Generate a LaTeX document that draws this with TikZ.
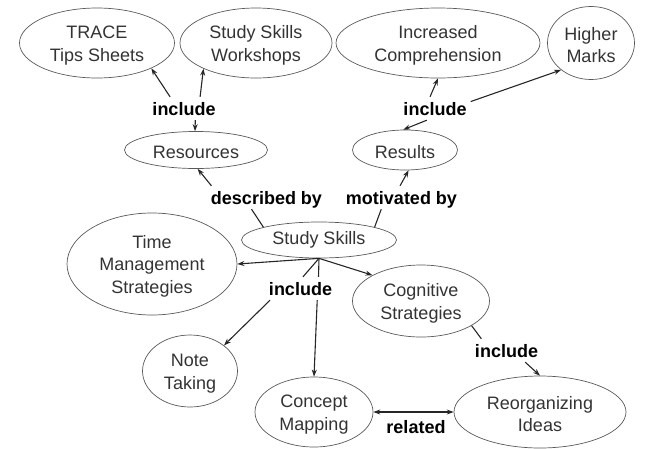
\documentclass[tikz,border=0pt]{standalone}
\usepackage{fontspec}
\setmainfont{Liberation Sans}
\usetikzlibrary{arrows.meta, positioning, shapes.geometric, calc}

\newcommand{\lift}{\rule{0pt}{17.5pt}}
\tikzset{
  concept/.style={ellipse, draw=black!65, line width=0.7pt, text=black!80, align=center, inner sep=0pt, font=\fontsize{18}{22.5}\selectfont},
  phrase/.style={inner xsep=4pt, inner ysep=5pt, text height=13pt, text depth=0pt, font=\fontsize{18}{22.5}\selectfont\bfseries},
  link/.style={line width=1.1pt, black!85},
  tip/.style={link, -{Stealth[length=7pt, width=5pt]}}
}

\begin{document}
\begin{tikzpicture}[x=1pt, y=-1pt]
  \useasboundingbox (0,0) rectangle (646,448);
  % Concepts
  \node[concept, minimum width=155pt, minimum height=70pt] (trace) at (97,43) {\lift TRACE\\Tips Sheets};
  \node[concept, minimum width=152pt, minimum height=70pt] (work) at (256,43) {\lift Study Skills\\Workshops};
  \node[concept, minimum width=204pt, minimum height=70pt] (incr) at (438,43) {\lift Increased\\Comprehension};
  \node[concept, minimum width=87pt, minimum height=73pt] (marks) at (591,43) {\lift Higher\\Marks};
  \node[concept, minimum width=143pt, minimum height=37pt] (res) at (196,150) {\lift Resources};
  \node[concept, minimum width=105pt, minimum height=40pt] (results) at (405,150) {\lift Results};
  \node[concept, minimum width=155pt, minimum height=36pt] (study) at (319,240) {Study Skills};
  \node[concept, minimum width=170pt, minimum height=102pt] (time) at (152,264) {\lift Time\\Management\\Strategies};
  \node[concept, minimum width=137pt, minimum height=72pt] (cog) at (421,301) {\lift Cognitive\\Strategies};
  \node[concept, minimum width=95pt, minimum height=72pt] (note) at (190,371) {\lift Note\\Taking};
  \node[concept, minimum width=118pt, minimum height=70pt] (concept) at (314,412) {\lift Concept\\Mapping};
  \node[concept, minimum width=172pt, minimum height=72pt] (reorg) at (540,412) {\lift Reorganizing\\Ideas};
  % Linking phrases
  \foreach \lbl/\px/\py/\ptext in {
    inclA/184/108.5/include,
    descr/266.5/197.5/described by,
    motiv/401.5/197.5/motivated by,
    inclB/435/108.5/include,
    inclC/300.5/288.5/include,
    inclD/506.5/350.5/include,
    rel/416/426.5/related
  } {
    \node[phrase] (\lbl) at (\px,\py) {\ptext};
  }
  % Resources side
  \draw[tip] (inclA.140) -- (trace.-25);
  \draw[tip] (inclA.36) -- (work.-154);
  \draw[tip] (inclA.-46) -- (res.93);
  \draw[tip] (descr.168) -- (res.-85);
  \draw[link] (study.167) -- (descr.218);
  % Results side
  \draw[link] (study.13) -- (motiv.210);
  \draw[tip] (motiv.97) -- (results.-80);
  \draw[tip] (inclB.235) -- (results.95);
  \draw[tip] (inclB.113) -- (incr.-90);
  \draw[tip] (inclB.11) -- (marks.-138);
  % Study skills include
  \coordinate (hub) at (study.south);
  \draw[tip] (hub) -- (time.0);
  \draw[tip] (hub) -- (cog.152);
  \draw[link] (inclC.33) -- (hub);
  \draw[link] (inclC.78) -- (hub);
  \draw[tip] (inclC.201) -- (note.37);
  \draw[tip] (inclC.-35) -- (concept.90);
  % Cognitive strategies
  \draw[link] (cog.-26) -- (inclD.155);
  \draw[tip] (inclD.-32) -- (reorg.90);
  \draw[link, {Stealth[length=7pt, width=5pt]}-{Stealth[length=7pt, width=5pt]}] (concept.east) -- (reorg.west);
\end{tikzpicture}
\end{document}
